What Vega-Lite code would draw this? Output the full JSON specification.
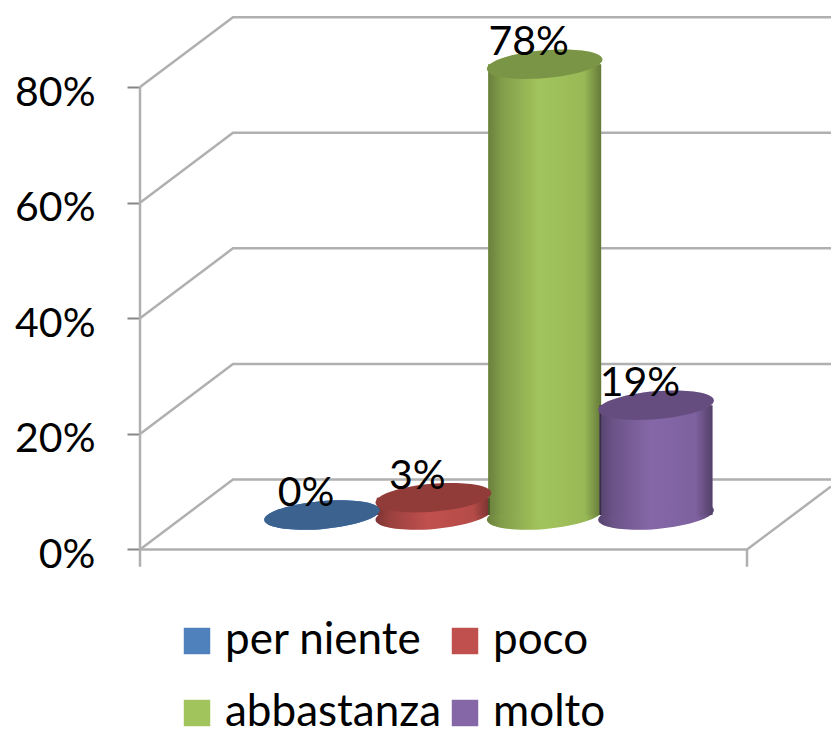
{"$schema":"https://vega.github.io/schema/vega-lite/v6.json","width":831,"height":729,"padding":0,"autosize":{"type":"none"},"background":"white","config":{"view":{"stroke":null}},"datasets":{"cyl":[{"category":"per niente","value":0},{"category":"poco","value":0.03},{"category":"abbastanza","value":0.78},{"category":"molto","value":0.19}],"frame":[{"s":"w0","i":0,"x":140,"y":0},{"s":"w0","i":1,"x":233,"y":0.121},{"s":"w0","i":2,"x":831,"y":0.121},{"s":"w20","i":0,"x":140,"y":0.2},{"s":"w20","i":1,"x":233,"y":0.321},{"s":"w20","i":2,"x":831,"y":0.321},{"s":"w40","i":0,"x":140,"y":0.4},{"s":"w40","i":1,"x":233,"y":0.521},{"s":"w40","i":2,"x":831,"y":0.521},{"s":"w60","i":0,"x":140,"y":0.6},{"s":"w60","i":1,"x":233,"y":0.721},{"s":"w60","i":2,"x":831,"y":0.721},{"s":"w80","i":0,"x":140,"y":0.8},{"s":"w80","i":1,"x":233,"y":0.921},{"s":"w80","i":2,"x":831,"y":0.921},{"s":"v","i":0,"x":140,"y":0.8},{"s":"v","i":1,"x":140,"y":-0.03},{"s":"f","i":0,"x":140,"y":0},{"s":"f","i":1,"x":747,"y":0},{"s":"f","i":2,"x":747,"y":-0.03},{"s":"d","i":0,"x":747,"y":0},{"s":"d","i":1,"x":831,"y":0.109}]},"resolve":{"scale":{"x":"independent","y":"independent"},"axis":{"x":"independent","y":"independent"}},"layer":[{"data":{"name":"frame"},"mark":{"type":"line","color":"#b0b0b0","strokeWidth":2.5},"encoding":{"x":{"field":"x","type":"quantitative","axis":null,"scale":{"domain":[0,831],"range":[0,831],"nice":false,"zero":false}},"y":{"field":"y","type":"quantitative","scale":{"domain":[-0.3106,0.9507],"nice":false,"zero":false},"axis":{"values":[0,0.2,0.4,0.6,0.8],"format":".0%","title":null,"grid":false,"domain":false,"offset":-140,"tickSize":13,"tickWidth":2,"tickColor":"#868686","labelFont":"Lato","labelFontSize":41,"labelColor":"black","labelPadding":32,"labelOffset":6}},"detail":{"field":"s"},"order":{"field":"i"}}},{"data":{"name":"cyl"},"mark":{"type":"point","shape":"M-1,0A1,0.24 0 1,0 1,0A1,0.24 0 1,0 -1,0Z","filled":true,"opacity":1,"size":13456,"angle":-5},"encoding":{"x":{"field":"category","type":"nominal","axis":null,"sort":null,"scale":{"type":"point","padding":0,"domain":["per niente","poco","abbastanza","molto"],"range":[322,656]}},"y":{"datum":0,"type":"quantitative","axis":null,"scale":{"domain":[-0.3702,0.891],"nice":false,"zero":false}},"color":{"field":"category","type":"nominal","scale":{"domain":["per niente","poco","abbastanza","molto"],"range":["#4F81BD","#C0504D","#A2C45C","#8567A8"]},"legend":{"orient":"none","direction":"horizontal","legendX":175,"legendY":619,"columns":2,"title":null,"symbolType":"square","symbolSize":700,"symbolStrokeWidth":0,"labelFont":"Lato","labelFontSize":44,"labelColor":"black","labelLimit":400,"labelOffset":6,"rowPadding":28,"columnPadding":1,"gridAlign":"each"}}}},{"data":{"name":"cyl"},"transform":[{"filter":"datum.value > 0"}],"mark":{"type":"point","shape":"M-1,0A1,0.24 0 1,0 1,0A1,0.24 0 1,0 -1,0Z","filled":true,"opacity":1,"size":13456,"angle":-5,"color":{"gradient":"linear","x1":0,"y1":0,"x2":1,"y2":0,"stops":[{"offset":0,"color":"rgba(0,0,0,0.35)"},{"offset":0.12,"color":"rgba(0,0,0,0.2)"},{"offset":0.45,"color":"rgba(0,0,0,0)"},{"offset":0.85,"color":"rgba(0,0,0,0.06)"},{"offset":1,"color":"rgba(0,0,0,0.38)"}]}},"encoding":{"x":{"field":"category","type":"nominal","axis":null,"sort":null,"scale":{"type":"point","padding":0,"domain":["per niente","poco","abbastanza","molto"],"range":[322,656]}},"y":{"datum":0,"type":"quantitative","axis":null,"scale":{"domain":[-0.3702,0.891],"nice":false,"zero":false}}}},{"data":{"name":"cyl"},"mark":{"type":"bar","width":113},"encoding":{"x":{"field":"category","type":"nominal","axis":null,"sort":null,"scale":{"type":"point","padding":0,"domain":["per niente","poco","abbastanza","molto"],"range":[322,656]}},"y":{"field":"value","type":"quantitative","axis":null,"scale":{"domain":[-0.3702,0.891],"nice":false,"zero":false}},"color":{"field":"category","type":"nominal","scale":{"domain":["per niente","poco","abbastanza","molto"],"range":["#4F81BD","#C0504D","#A2C45C","#8567A8"]},"legend":{"orient":"none","direction":"horizontal","legendX":175,"legendY":619,"columns":2,"title":null,"symbolType":"square","symbolSize":700,"symbolStrokeWidth":0,"labelFont":"Lato","labelFontSize":44,"labelColor":"black","labelLimit":400,"labelOffset":6,"rowPadding":28,"columnPadding":1,"gridAlign":"each"}}}},{"data":{"name":"cyl"},"transform":[{"filter":"datum.value > 0"}],"mark":{"type":"bar","width":113,"color":{"gradient":"linear","x1":0,"y1":0,"x2":1,"y2":0,"stops":[{"offset":0,"color":"rgba(0,0,0,0.35)"},{"offset":0.12,"color":"rgba(0,0,0,0.2)"},{"offset":0.45,"color":"rgba(0,0,0,0)"},{"offset":0.85,"color":"rgba(0,0,0,0.06)"},{"offset":1,"color":"rgba(0,0,0,0.38)"}]}},"encoding":{"x":{"field":"category","type":"nominal","axis":null,"sort":null,"scale":{"type":"point","padding":0,"domain":["per niente","poco","abbastanza","molto"],"range":[322,656]}},"y":{"field":"value","type":"quantitative","axis":null,"scale":{"domain":[-0.3702,0.891],"nice":false,"zero":false}}}},{"data":{"name":"cyl"},"mark":{"type":"point","shape":"M-1,0A1,0.24 0 1,0 1,0A1,0.24 0 1,0 -1,0Z","filled":true,"opacity":1,"size":13456,"angle":-5},"encoding":{"x":{"field":"category","type":"nominal","axis":null,"sort":null,"scale":{"type":"point","padding":0,"domain":["per niente","poco","abbastanza","molto"],"range":[322,656]}},"y":{"field":"value","type":"quantitative","axis":null,"scale":{"domain":[-0.3702,0.891],"nice":false,"zero":false}},"color":{"field":"category","type":"nominal","scale":{"domain":["per niente","poco","abbastanza","molto"],"range":["#4F81BD","#C0504D","#A2C45C","#8567A8"]},"legend":{"orient":"none","direction":"horizontal","legendX":175,"legendY":619,"columns":2,"title":null,"symbolType":"square","symbolSize":700,"symbolStrokeWidth":0,"labelFont":"Lato","labelFontSize":44,"labelColor":"black","labelLimit":400,"labelOffset":6,"rowPadding":28,"columnPadding":1,"gridAlign":"each"}}}},{"data":{"name":"cyl"},"mark":{"type":"point","shape":"M-1,0A1,0.24 0 1,0 1,0A1,0.24 0 1,0 -1,0Z","filled":true,"opacity":0.24,"color":"black","size":13456,"angle":-5},"encoding":{"x":{"field":"category","type":"nominal","axis":null,"sort":null,"scale":{"type":"point","padding":0,"domain":["per niente","poco","abbastanza","molto"],"range":[322,656]}},"y":{"field":"value","type":"quantitative","axis":null,"scale":{"domain":[-0.3702,0.891],"nice":false,"zero":false}}}},{"data":{"name":"cyl"},"mark":{"type":"text","font":"Lato","fontSize":41,"color":"black","dx":-16,"dy":-21,"baseline":"middle"},"encoding":{"x":{"field":"category","type":"nominal","axis":null,"sort":null,"scale":{"type":"point","padding":0,"domain":["per niente","poco","abbastanza","molto"],"range":[322,656]}},"y":{"field":"value","type":"quantitative","axis":null,"scale":{"domain":[-0.3702,0.891],"nice":false,"zero":false}},"text":{"field":"value","type":"quantitative","format":".0%"}}}]}
